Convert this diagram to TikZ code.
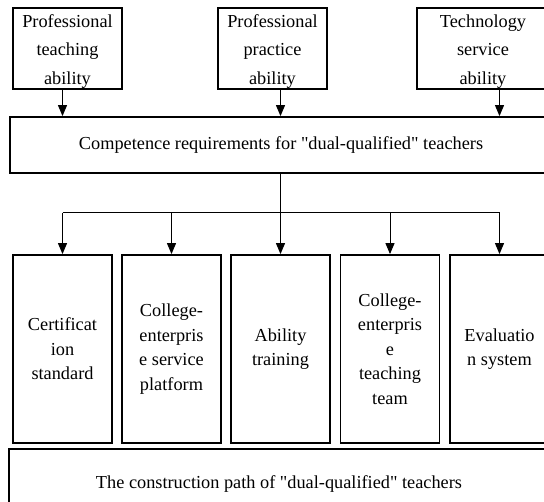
\documentclass[tikz,border=0pt]{standalone}
\usepackage{fontspec}
\setmainfont{Liberation Serif}[Ligatures=TeXOff]
\usetikzlibrary{arrows.meta}
\begin{document}
\begin{tikzpicture}[x=1pt,y=-1pt,
  box/.style={draw, line width=1.8pt, inner sep=0pt, align=center,
    font=\fontsize{18.3}{24.5}\selectfont},
  topbox/.style={draw, line width=1.8pt, inner sep=0pt, minimum height=81},
  toptext/.style={inner sep=0pt, align=center, font=\fontsize{18.3}{28.5}\selectfont},
  conn/.style={line width=1pt, -{Triangle[width=9pt,length=11pt]}},
  link/.style={line width=1pt}]
\useasboundingbox (0,0) rectangle (544,502);
\clip (0,0) rectangle (544,502);
% top boxes
\node[topbox, minimum width=109] (t1) at (67.5,48.5) {};
\node[topbox, minimum width=109] (t2) at (272.5,48.5) {};
\node[topbox, minimum width=132] (t3) at (483,48.5) {};
\node[toptext] (t1txt) at ([yshift=-3pt]t1.center) {Professional\\teaching\\ability};
\node[toptext] (t2txt) at ([yshift=-3pt]t2.center) {Professional\\practice\\ability};
\node[toptext] (t3txt) at ([yshift=-3pt]t3.center) {Technology\\service\\ability};
% competence
\node[box, minimum width=542, minimum height=56] (comp) at (281,145) {Competence requirements for "dual-qualified" teachers};
% bottom boxes
\node[box, minimum width=99, minimum height=188] (b1) at (62.5,349) {Certificat\\ion\\standard};
\node[box, minimum width=99, minimum height=188] (b2) at (171.5,349) {College-\\enterpris\\e service\\platform};
\node[box, minimum width=99, minimum height=188] (b3) at (280.5,349) {Ability\\training};
\node[box, minimum width=99, minimum height=188] (b4) at (390,349) {College-\\enterpris\\e\\teaching\\team};
\node[box, minimum width=99, minimum height=188] (b5) at (499.5,349) {Evaluatio\\n system};
% path
\node[box, minimum width=540, minimum height=70] (path) at (279,484) {The construction path of "dual-qualified" teachers};
% top arrows
\draw[conn] (b1 |- t1.south) -- (b1 |- comp.north);
\draw[conn] (b3 |- t2.south) -- (b3 |- comp.north);
\draw[conn] (b5 |- t3.south) -- (b5 |- comp.north);
% branch
\coordinate (br) at (280.5,213);
\draw[link] (comp.south -| br) -- (br);
\draw[link] (b1 |- br) -- (b5 |- br);
\draw[conn] (b1 |- br) -- (b1.north);
\draw[conn] (b2 |- br) -- (b2.north);
\draw[conn] (b3 |- br) -- (b3.north);
\draw[conn] (b4 |- br) -- (b4.north);
\draw[conn] (b5 |- br) -- (b5.north);
\end{tikzpicture}
\end{document}
